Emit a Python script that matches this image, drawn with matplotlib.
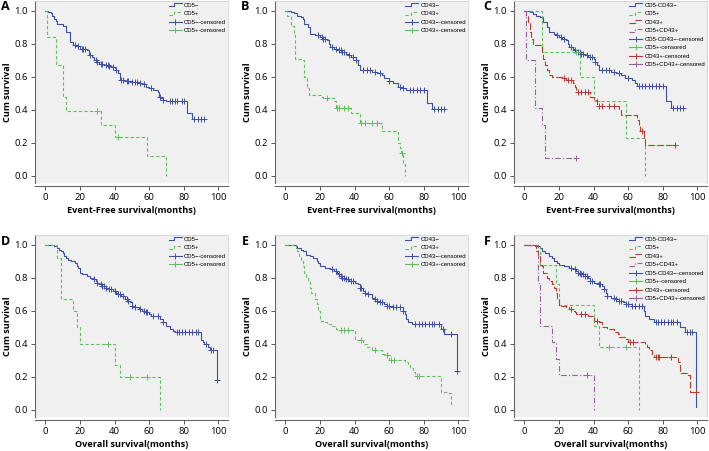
import numpy as np
import matplotlib
matplotlib.use("Agg")
import matplotlib.pyplot as plt
from matplotlib.lines import Line2D
from matplotlib.legend_handler import HandlerBase

plt.rcParams['font.family'] = ['Open Sans', 'DejaVu Sans']

# --- A: event-free survival by CD5 ---
a_neg_t = [1.5, 3, 4, 5, 6, 7, 10, 12, 14, 16, 18, 20, 24, 25, 26, 27, 28, 30, 31, 34, 37, 38, 40, 41,
           42, 43, 46, 50, 55, 56, 58, 60, 62, 65, 65.5, 67, 68, 70, 82, 85]
a_neg_s = [0.99, 0.985, 0.97, 0.95, 0.94, 0.92, 0.91, 0.87, 0.81, 0.79, 0.785, 0.77, 0.76, 0.74, 0.73,
           0.72, 0.70, 0.69, 0.68, 0.67, 0.665, 0.66, 0.65, 0.64, 0.62, 0.58, 0.575, 0.57, 0.565, 0.555,
           0.54, 0.53, 0.52, 0.51, 0.48, 0.47, 0.46, 0.45, 0.38, 0.345]
a_neg_c = [17, 19, 21, 22, 23, 26, 29, 30, 32, 33, 35, 36, 37, 39, 41, 44, 45, 47, 48, 50, 52, 53, 55,
           57, 61, 66, 68, 72, 73, 75, 76, 79, 80, 86, 88, 90, 92]
a_pos_t = [1, 6, 10, 12, 32, 40, 59, 70]
a_pos_s = [0.84, 0.67, 0.48, 0.39, 0.31, 0.235, 0.117, 0.0]
a_pos_c = [30, 42]

# --- B: event-free survival by CD43 ---
b_neg_t = [3, 5, 7, 9, 10, 11, 13, 14, 17, 20, 22, 24, 25, 26, 28, 30, 33, 35, 36, 38, 41, 42, 43, 50,
           53, 56, 57, 60, 62, 65, 68, 70, 82, 85]
b_neg_s = [0.99, 0.985, 0.97, 0.96, 0.95, 0.92, 0.90, 0.86, 0.85, 0.84, 0.83, 0.82, 0.80, 0.78, 0.77,
           0.76, 0.75, 0.74, 0.73, 0.72, 0.70, 0.67, 0.64, 0.63, 0.62, 0.61, 0.59, 0.575, 0.56, 0.54,
           0.53, 0.52, 0.44, 0.405]
b_neg_c = [19, 21, 22, 23, 27, 29, 31, 32, 33, 34, 37, 39, 41, 45, 47, 49, 52, 55, 60, 66, 68, 72, 74,
           76, 78, 80, 86, 88, 90, 92]
b_pos_t = [1, 3.5, 5, 5.5, 9.5, 10.5, 12.5, 13.5, 21, 22, 28, 29, 38, 43, 56, 65, 66, 67, 68, 69]
b_pos_s = [0.97, 0.91, 0.85, 0.71, 0.70, 0.60, 0.53, 0.49, 0.48, 0.47, 0.45, 0.41, 0.38, 0.32, 0.27,
           0.20, 0.17, 0.14, 0.07, 0.0]
b_pos_c = [24, 30, 31, 34, 36, 44, 46, 50, 53, 67.5]

# --- C: event-free survival by CD5/CD43 ---
c_nn_t = [3, 5, 7, 9, 11, 13, 14, 17, 19, 20, 22, 24, 25, 26, 28, 29, 30, 33, 35, 37, 40, 41, 42, 43,
          50, 53, 56, 58, 62, 64, 65, 82, 85]
c_nn_s = [0.99, 0.98, 0.97, 0.96, 0.93, 0.90, 0.87, 0.86, 0.85, 0.84, 0.83, 0.82, 0.80, 0.78, 0.77,
          0.76, 0.75, 0.74, 0.73, 0.72, 0.71, 0.69, 0.67, 0.64, 0.63, 0.62, 0.61, 0.59, 0.58, 0.56,
          0.545, 0.45, 0.41]
c_nn_c = [19, 21, 23, 27, 29, 31, 32, 33, 34, 36, 38, 39, 41, 45, 47, 49, 52, 55, 60, 66, 68, 70, 72,
          74, 76, 78, 80, 86, 88, 90, 92]
c_p5_t = [10, 32, 40, 59, 70]
c_p5_s = [0.75, 0.60, 0.455, 0.23, 0.0]
c_p5_c = [30, 42]
c_p43_t = [1, 2, 3, 4, 5, 10, 11, 12, 13, 14, 16, 23, 24, 28, 29, 30, 38, 40, 42, 55, 56, 65, 66, 67,
           69, 70]
c_p43_s = [0.97, 0.93, 0.87, 0.83, 0.79, 0.75, 0.71, 0.67, 0.64, 0.61, 0.60, 0.59, 0.58, 0.565, 0.54,
           0.51, 0.48, 0.46, 0.42, 0.40, 0.37, 0.34, 0.31, 0.27, 0.23, 0.185]
c_p43_c = [23, 25, 27, 31, 33, 35, 37, 43, 45, 49, 52, 68, 87]
c_pp_t = [1, 6, 10, 12]
c_pp_s = [0.70, 0.41, 0.31, 0.11]
c_pp_c = [30]

# --- D: overall survival by CD5 ---
d_neg_t = [5, 6, 7, 8, 9, 10, 11, 12, 13, 15, 17, 18, 19, 20, 21, 24, 26, 28, 29, 30, 31, 33, 35, 36,
           39, 41, 42, 44, 46, 48, 49, 50, 52, 54, 56, 58, 60, 61, 66, 68, 70, 72, 74, 75, 90, 91, 92,
           94, 95, 99]
d_neg_s = [0.995, 0.99, 0.98, 0.97, 0.96, 0.95, 0.93, 0.92, 0.91, 0.90, 0.89, 0.87, 0.86, 0.83, 0.82,
           0.81, 0.80, 0.79, 0.78, 0.77, 0.76, 0.75, 0.74, 0.73, 0.72, 0.71, 0.70, 0.69, 0.67, 0.66,
           0.65, 0.63, 0.62, 0.61, 0.60, 0.59, 0.58, 0.57, 0.55, 0.53, 0.51, 0.49, 0.48, 0.47, 0.42,
           0.41, 0.40, 0.38, 0.36, 0.18]
d_neg_c = [28, 30, 32, 33, 34, 35, 37, 38, 40, 42, 43, 45, 47, 48, 50, 52, 55, 57, 58, 59, 62, 65, 68,
           76, 77, 79, 81, 83, 85, 87, 88, 93, 96, 97, 99]
d_pos_t = [7, 9, 16, 18, 20, 40, 43, 66]
d_pos_s = [0.92, 0.67, 0.60, 0.50, 0.40, 0.27, 0.20, 0.0]
d_pos_c = [36, 49, 59]

# --- E: overall survival by CD43 ---
e_neg_t = [6, 7, 9, 10, 12, 14, 16, 18, 19, 20, 23, 26, 28, 30, 31, 32, 33, 35, 37, 40, 42, 43, 45, 46,
           48, 50, 51, 53, 55, 57, 59, 62, 68, 69, 70, 71, 73, 90, 92, 99]
e_neg_s = [0.99, 0.98, 0.97, 0.96, 0.94, 0.93, 0.92, 0.90, 0.89, 0.87, 0.86, 0.85, 0.84, 0.83, 0.82,
           0.81, 0.80, 0.79, 0.78, 0.77, 0.76, 0.74, 0.72, 0.71, 0.70, 0.68, 0.67, 0.66, 0.65, 0.64,
           0.63, 0.625, 0.60, 0.58, 0.55, 0.53, 0.52, 0.49, 0.46, 0.235]
e_neg_c = [27, 29, 31, 32, 33, 34, 35, 36, 38, 39, 43, 44, 46, 48, 52, 53, 55, 56, 59, 60, 62, 64, 66,
           68, 75, 77, 79, 81, 83, 85, 86, 89, 91, 96, 99]
e_pos_t = [6, 7, 8, 9, 10, 11, 12, 13, 14, 15, 17, 18, 19, 20, 22, 24, 27, 29, 30, 40, 45, 47, 50, 56,
           58, 60, 69, 71, 72, 74, 75, 90, 94, 96]
e_pos_s = [0.98, 0.96, 0.93, 0.90, 0.87, 0.83, 0.80, 0.78, 0.74, 0.71, 0.67, 0.64, 0.60, 0.54, 0.53,
           0.52, 0.505, 0.49, 0.485, 0.42, 0.40, 0.38, 0.36, 0.34, 0.33, 0.30, 0.29, 0.27, 0.25, 0.23,
           0.205, 0.11, 0.10, 0.025]
e_pos_c = [32, 34, 36, 44, 52, 59, 61, 63, 76, 77]

# --- F: overall survival by CD5/CD43 ---
f_nn_t = [7, 9, 10, 12, 14, 16, 17, 19, 20, 23, 26, 28, 30, 31, 33, 35, 37, 38, 40, 43, 45, 46, 47, 48,
          50, 53, 55, 57, 59, 62, 69, 70, 72, 75, 90, 93, 99]
f_nn_s = [0.99, 0.98, 0.96, 0.95, 0.93, 0.92, 0.90, 0.89, 0.88, 0.87, 0.86, 0.85, 0.84, 0.83, 0.82,
          0.81, 0.80, 0.78, 0.77, 0.76, 0.75, 0.73, 0.71, 0.69, 0.68, 0.67, 0.66, 0.65, 0.64, 0.63,
          0.60, 0.57, 0.55, 0.53, 0.50, 0.47, 0.015]
f_nn_c = [27, 29, 31, 32, 33, 34, 35, 36, 38, 39, 43, 44, 46, 48, 52, 53, 55, 56, 59, 60, 62, 64, 66,
          68, 76, 77, 79, 81, 83, 85, 86, 88, 94, 96, 97]
f_p5_t = [9, 18, 20, 40, 43, 66]
f_p5_s = [0.875, 0.76, 0.635, 0.51, 0.38, 0.0]
f_p5_c = [49, 59]
f_p43_t = [6, 7, 8, 9, 10, 11, 13, 14, 16, 17, 18, 19, 20, 24, 26, 28, 29, 30, 37, 40, 43, 45, 48, 52,
           54, 55, 58, 60, 70, 71, 72, 74, 75, 89, 90, 94, 96]
f_p43_s = [0.99, 0.96, 0.93, 0.88, 0.87, 0.83, 0.80, 0.78, 0.76, 0.74, 0.71, 0.67, 0.63, 0.62, 0.61,
           0.60, 0.59, 0.58, 0.57, 0.54, 0.53, 0.50, 0.49, 0.47, 0.46, 0.44, 0.43, 0.41, 0.40, 0.38,
           0.36, 0.34, 0.32, 0.29, 0.22, 0.21, 0.11]
f_p43_c = [27, 33, 35, 42, 61, 63, 76, 77, 78, 85, 99]
f_pp_t = [8, 9, 16, 18, 20, 40]
f_pp_s = [0.77, 0.51, 0.41, 0.31, 0.21, 0.0]
f_pp_c = [36]

BLUE = '#3f51a6'
GREEN = '#62bf5f'
RED = '#b83a30'
PURPLE = '#94639a'
styles = {
    'blue': (BLUE, '-'),
    'green': (GREEN, (0, (3, 2))),
    'red': (RED, (0, (6, 2))),
    'purple': (PURPLE, (0, (5, 2, 1, 2))),
}


class StepHandler(HandlerBase):
    # SPSS-style little step in the legend
    def create_artists(self, legend, orig_handle, xdescent, ydescent, width, height, fontsize, trans):
        x0 = -xdescent
        ym = height / 2 - ydescent
        xs = [x0, x0 + width * 0.45, x0 + width * 0.45, x0 + width]
        ys = [ym - height * 0.3, ym - height * 0.3, ym + height * 0.4, ym + height * 0.4]
        line = Line2D(xs, ys)
        self.update_prop(line, orig_handle, legend)
        line.set_transform(trans)
        return [line]


def km(ax, t, s, c, style):
    color, ls = styles[style]
    tt = np.r_[0.0, t]
    ss = np.r_[1.0, s]
    end = max(tt[-1], max(c) if len(c) else 0)
    ax.step(np.r_[tt, end], np.r_[ss, ss[-1]], where='post', color=color, ls=ls, lw=0.8)
    cy = ss[np.searchsorted(tt, c, side='right') - 1]
    ax.plot(c, cy, ls='none', marker='+', color=color, ms=4, mew=0.7)


def setup(ax, xlabel, curves, labels):
    ax.set_facecolor('#f0f0f0')
    ax.set_xlim(-6, 105.6)
    ax.set_ylim(-0.044, 1.059)
    ax.set_xticks(range(0, 101, 20))
    ax.set_yticks(np.arange(0, 1.01, 0.2))
    ax.yaxis.set_major_formatter(plt.FormatStrFormatter('%.1f'))
    ax.tick_params(labelsize=6.8, length=3, width=0.7, color='#555555', pad=2)
    for sp in ['left', 'bottom']:
        ax.spines[sp].set_color('#666666')
        ax.spines[sp].set_linewidth(0.8)
    ax.spines['bottom'].set_position(('outward', 2))
    for sp in ['top', 'right']:
        ax.spines[sp].set_color('#d2d2d2')
        ax.spines[sp].set_linewidth(0.6)
    ax.set_xlabel(xlabel, fontsize=6.6, fontweight='bold', labelpad=3)
    ax.set_ylabel('Cum survival', fontsize=6.6, fontweight='bold', labelpad=2)
    for (t, s, c, st) in curves:
        km(ax, t, s, c, st)
    handles = []
    hmap = {}
    for (t, s, c, st) in curves:
        color, ls = styles[st]
        h = Line2D([], [], color=color, ls=ls, lw=0.8)
        handles.append(h)
        hmap[h] = StepHandler()
    for (t, s, c, st) in curves:
        color, ls = styles[st]
        handles.append(Line2D([], [], color=color, lw=0.8, marker='+', ms=5, mew=0.7))
    full = labels + [lb + '-censored' for lb in labels]
    ax.legend(handles, full, handler_map=hmap, loc='upper right', frameon=False,
              labelspacing=0.55, handlelength=2.2, handletextpad=0.4,
              borderaxespad=0.1, borderpad=0.2,
              prop={'family': ['Liberation Sans', 'DejaVu Sans'], 'size': 4.3})


fig = plt.figure(figsize=(7.09, 4.51), dpi=100)
W, H = 709, 451


def add_axes(left, top, width=193, height=182):
    return fig.add_axes([left / W, (H - top - height) / H, width / W, height / H])


efs = 'Event-Free survival(months)'
os_ = 'Overall survival(months)'
m = '\u2212'

axA = add_axes(35, 1)
setup(axA, efs, [(a_neg_t, a_neg_s, a_neg_c, 'blue'), (a_pos_t, a_pos_s, a_pos_c, 'green')],
      ['CD5' + m, 'CD5+'])
axB = add_axes(275, 1)
setup(axB, efs, [(b_neg_t, b_neg_s, b_neg_c, 'blue'), (b_pos_t, b_pos_s, b_pos_c, 'green')],
      ['CD43' + m, 'CD43+'])
axC = add_axes(514, 1)
setup(axC, efs, [(c_nn_t, c_nn_s, c_nn_c, 'blue'), (c_p5_t, c_p5_s, c_p5_c, 'green'),
                 (c_p43_t, c_p43_s, c_p43_c, 'red'), (c_pp_t, c_pp_s, c_pp_c, 'purple')],
      ['CD5-CD43' + m, 'CD5+', 'CD43+', 'CD5+CD43+'])
axD = add_axes(35, 235)
setup(axD, os_, [(d_neg_t, d_neg_s, d_neg_c, 'blue'), (d_pos_t, d_pos_s, d_pos_c, 'green')],
      ['CD5' + m, 'CD5+'])
axE = add_axes(275, 235)
setup(axE, os_, [(e_neg_t, e_neg_s, e_neg_c, 'blue'), (e_pos_t, e_pos_s, e_pos_c, 'green')],
      ['CD43' + m, 'CD43+'])
axF = add_axes(514, 235)
setup(axF, os_, [(f_nn_t, f_nn_s, f_nn_c, 'blue'), (f_p5_t, f_p5_s, f_p5_c, 'green'),
                 (f_p43_t, f_p43_s, f_p43_c, 'red'), (f_pp_t, f_pp_s, f_pp_c, 'purple')],
      ['CD5-CD43' + m, 'CD5+', 'CD43+', 'CD5+CD43+'])

for letter, (x, y) in zip('ABCDEF', [(5, 7), (245, 7), (487, 7), (5, 241), (245, 241), (487, 241)]):
    fig.text(x / W, 1 - y / H, letter, fontsize=9, fontweight='bold', va='center', ha='center')

fig.savefig('out.png', dpi=100)
